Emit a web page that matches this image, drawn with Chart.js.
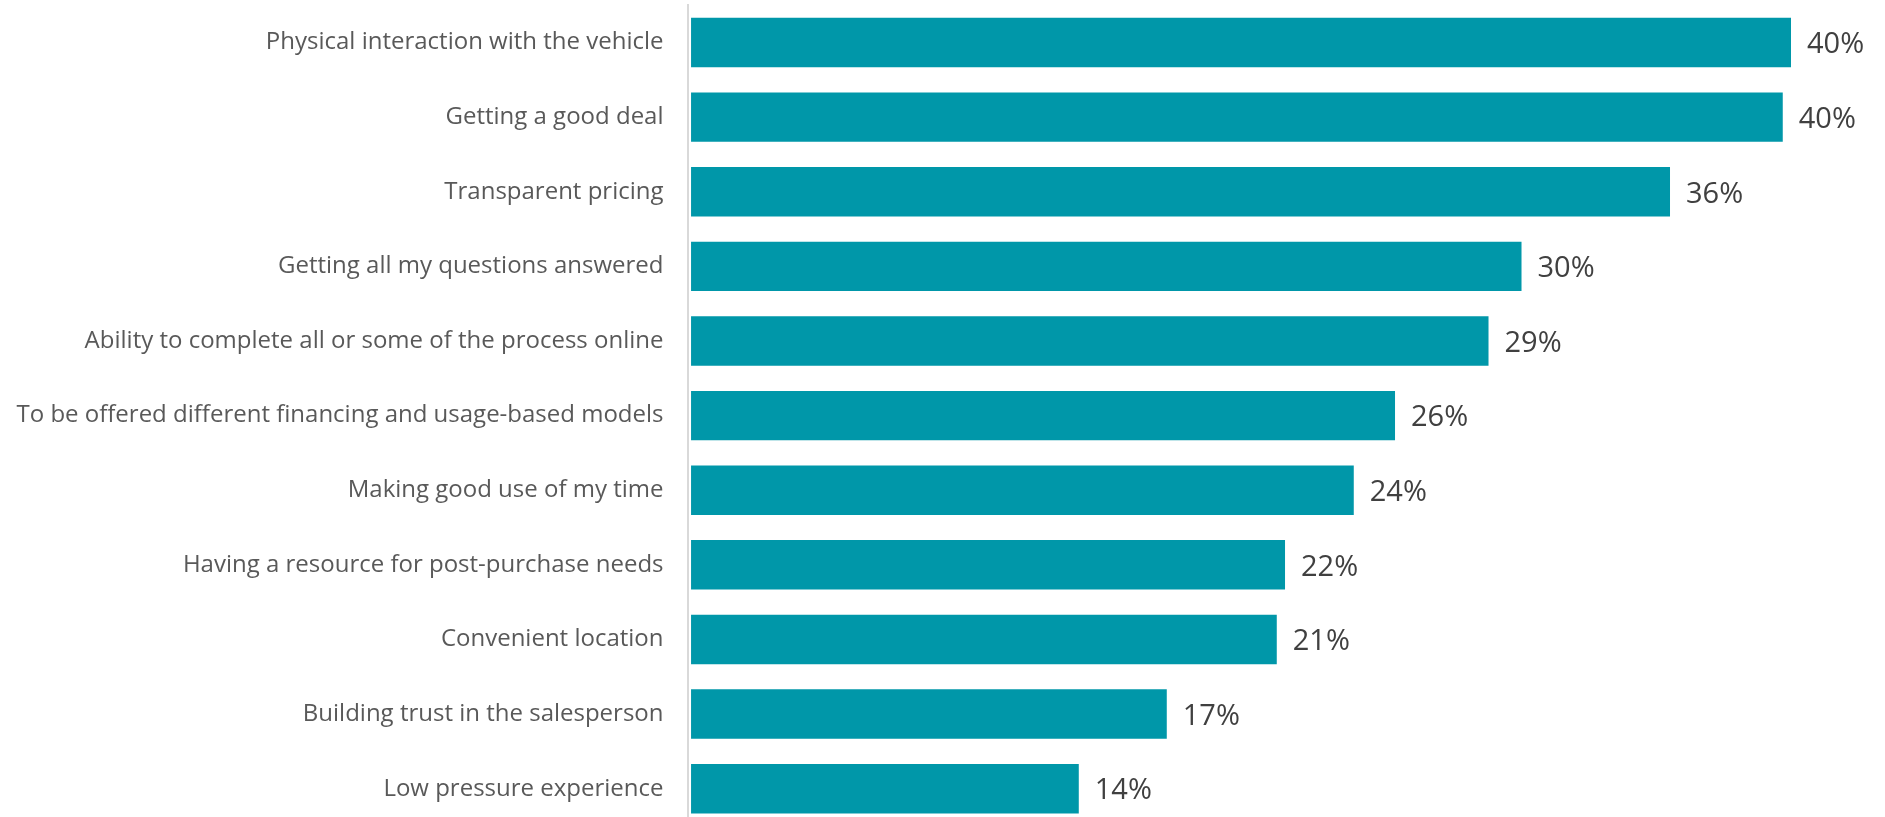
<!DOCTYPE html>
<html lang="en">
<head>
<meta charset="UTF-8">
<title>What matters most when buying a vehicle</title>
<script src="https://cdn.jsdelivr.net/npm/chart.js@4.4.1/dist/chart.umd.min.js"></script>
<style>
  html, body { margin: 0; padding: 0; background: #fff; overflow: hidden; }
  #wrap { position: relative; width: 1885px; height: 826px; }
</style>
</head>
<body>

<div id="wrap"><canvas id="priorityChart"></canvas></div>

<script>
// survey answers, top to bottom
const categories = [
    'Physical interaction with the vehicle',
    'Getting a good deal',
    'Transparent pricing',
    'Getting all my questions answered',
    'Ability to complete all or some of the process online',
    'To be offered different financing and usage-based models',
    'Making good use of my time',
    'Having a resource for post-purchase needs',
    'Convenient location',
    'Building trust in the salesperson',
    'Low pressure experience'
];
// share of respondents, %
const shares = [40.0, 39.7, 35.6, 30.2, 29.0, 25.6, 24.1, 21.6, 21.3, 17.3, 14.1];

const barColor = '#0097a9';

// prints the rounded percentage just past the end of each bar
const valueLabels = {
    id: 'valueLabels',
    afterDatasetsDraw(chart) {
        const ctx = chart.ctx;
        const meta = chart.getDatasetMeta(0);
        ctx.save();
        ctx.font = '29px "Open Sans"';
        ctx.fillStyle = '#404040';
        ctx.textAlign = 'left';
        ctx.textBaseline = 'middle';
        meta.data.forEach(function(bar, i) {
            ctx.fillText(Math.round(shares[i]) + '%', bar.x + 16, bar.y + 2.5);
        });
        ctx.restore();
    }
};

const ctx = document.getElementById('priorityChart').getContext('2d');
new Chart(ctx, {
    type: 'bar',
    data: {
        labels: categories,
        datasets: [{
            data: shares,
            backgroundColor: barColor,
            barPercentage: 0.6625,
            categoryPercentage: 1
        }]
    },
    options: {
        indexAxis: 'y',
        responsive: true,
        maintainAspectRatio: false,
        animation: false,
        layout: { padding: { top: 5.2, right: 11.5, left: 0, bottom: 0 } },
        plugins: {
            legend: { display: false },
            tooltip: { enabled: false }
        },
        scales: {
            x: {
                display: false,
                min: -0.1,
                max: 43
            },
            y: {
                grid: { display: false, drawTicks: false },
                border: { display: true, color: '#d9d9d9', width: 2 },
                ticks: {
                    color: '#595959',
                    padding: 24.8,
                    font: { family: '"Open Sans"', size: 24 }
                },
                afterFit: function(scale) {
                    // fixed label column; labels may run into the top/bottom margin
                    scale.width = 688.3;
                    scale.paddingTop = 0;
                    scale.paddingBottom = 0;
                }
            }
        }
    },
    plugins: [valueLabels]
});
</script>

</body>
</html>
